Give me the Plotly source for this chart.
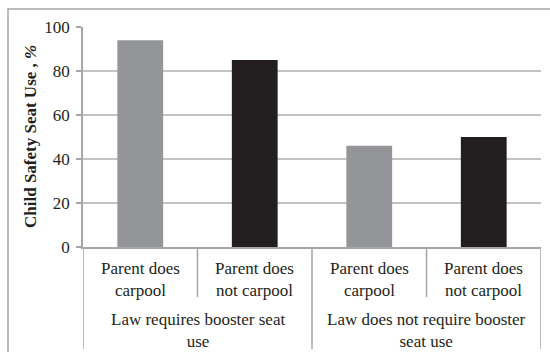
import plotly.graph_objects as go

groups = ["Law requires booster seat<br>use", "Law does not require booster<br>seat use"]
subcats = ["Parent does<br>carpool", "Parent does<br>not carpool"]
values = [94, 85, 46, 50]
sub_colors = ["#939598", "#231f20"]
y_title = "<b>Child Safety Seat Use , <i>%</i></b>"
y_ticks = [0, 20, 40, 60, 80, 100]

FONT = "Liberation Serif"
TXT = "#231f20"
LINE = "#a6a6a6"
GRID = "#c3c3c3"

xkeys, colors, sublabels = [], [], []
for g in groups:
    for j, s in enumerate(subcats):
        xkeys.append(g + "|" + s)
        colors.append(sub_colors[j])
        sublabels.append(s)

fig = go.Figure(go.Bar(x=xkeys, y=values, marker=dict(color=colors, line=dict(width=0)),
                       hoverinfo="skip"))

W, H = 550, 352
ml, mr, mt, mb = 83, 9, 27, 105
ph = H - mt - mb

annotations = []
for k, lab in zip(xkeys, sublabels):
    annotations.append(dict(x=k, xref="x", y=0, yref="paper", yanchor="top", xanchor="center",
                            yshift=-10, text=lab, showarrow=False,
                            font=dict(family=FONT, size=17, color=TXT)))
n_sub = len(subcats)
for gi, g in enumerate(groups):
    center = gi * n_sub + (n_sub - 1) / 2
    annotations.append(dict(x=center, xref="x", y=0, yref="paper", yanchor="top", xanchor="center",
                            yshift=-61, text=g, showarrow=False,
                            font=dict(family=FONT, size=17, color=TXT)))
annotations.append(dict(x=(30 - ml) / (W - ml - mr), xref="paper", y=0.5, yref="paper",
                        textangle=-90, text=y_title, showarrow=False, xanchor="center", yanchor="middle",
                        font=dict(family=FONT, size=17, color=TXT)))

shapes = []
n = len(xkeys)
for b in range(n + 1):
    pos = b - 0.5
    outer = (b % n_sub == 0)
    y_end = -(349 - (H - mb)) / ph if outer else -(297 - (H - mb)) / ph
    shapes.append(dict(type="line", xref="x", yref="paper", x0=pos, x1=pos, y0=0, y1=y_end,
                       line=dict(color=LINE, width=1.5)))
# outer frame
pw = W - ml - mr
shapes.append(dict(type="rect", xref="paper", yref="paper",
                   x0=(8 - ml) / pw, x1=(560 - ml) / pw,
                   y0=-(370 - (H - mb)) / ph, y1=((H - mb) - 9) / ph,
                   line=dict(color=LINE, width=1.5), fillcolor="rgba(0,0,0,0)", layer="below"))

fig.update_layout(
    width=W, height=H, margin=dict(l=ml, r=mr, t=mt, b=mb, pad=0),
    paper_bgcolor="white", plot_bgcolor="white",
    bargap=0.6, showlegend=False,
    font=dict(family=FONT, color=TXT),
    annotations=annotations, shapes=shapes,
    xaxis=dict(type="category", showticklabels=False, ticks="", showgrid=False,
               showline=True, linecolor=LINE, linewidth=1.5, range=[-0.5, n - 0.5], fixedrange=True),
    yaxis=dict(range=[0, 100], tickvals=y_ticks, showgrid=True, gridcolor=GRID, gridwidth=1.5,
               zeroline=False, showline=True, linecolor=LINE, linewidth=1.5,
               ticks="outside", ticklen=5, tickcolor=LINE, tickwidth=1.5,
               tickfont=dict(family=FONT, size=17, color=TXT), ticklabelstandoff=3),
)

fig.write_html("out.html")
